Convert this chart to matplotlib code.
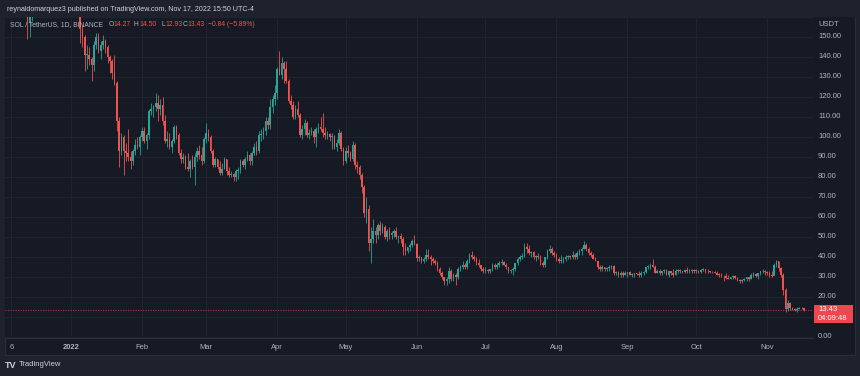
import numpy as np
import pandas as pd
import matplotlib
matplotlib.use("Agg")
import matplotlib.pyplot as plt
from matplotlib.patches import Rectangle

# SOL / TetherUS daily candles: (high, low, close) per day,
# the open of each day is the previous close
first_open = 231.0
dec21 = [(236, 222, 228), (234, 205, 212), (213, 165, 197), (204, 185, 194), (196, 176, 192),
         (199, 186, 188), (193, 180, 190), (191, 172, 174), (182, 168, 170), (181, 166, 179),
         (182, 172, 177), (178, 149, 157), (165, 150, 162), (177, 158, 175), (181, 170, 172),
         (186, 165, 182), (186, 177, 181), (186, 178, 180), (182, 168, 177), (188, 176, 186),
         (188, 178, 180), (194, 177, 191), (199, 188, 192), (197, 188, 194), (198, 189, 193),
         (204, 191, 197), (198, 177, 180), (183, 168, 170), (177, 166, 172), (182, 168, 170)]
jan22 = [(179, 168, 178), (181, 172, 176), (176, 166, 170), (172, 164, 167), (172, 147, 154),
         (156, 145, 150), (151, 133, 141), (146, 134, 141), (145, 136, 139), (140, 128, 136),
         (148, 133, 146), (152, 144, 150), (152, 142, 143), (148, 139, 146), (151, 144, 148),
         (149, 142, 145), (146, 137, 140), (141, 132, 138), (139, 129, 132), (141, 126, 127),
         (128, 103, 108), (110, 85, 93), (102, 91, 100), (101, 81, 93), (97, 88, 92),
         (104, 88, 90), (93, 84, 88), (94, 86, 93), (99, 91, 96), (100, 94, 95), (101, 91, 100)]
feb22 = [(105, 98, 103), (105, 97, 98), (102, 94, 101), (114, 99, 113), (117, 111, 114),
         (116, 110, 115), (122, 113, 117), (121, 108, 114), (119, 111, 116), (120, 106, 108),
         (111, 97, 98), (103, 95, 99), (102, 94, 95), (99, 92, 98), (106, 97, 105),
         (106, 99, 101), (102, 91, 92), (94, 87, 89), (92, 87, 90), (91, 84, 85),
         (92, 83, 84), (89, 80, 88), (91, 84, 85), (92, 76, 90), (95, 88, 93),
         (96, 89, 91), (95, 86, 88), (100, 87, 99)]
mar22 = [(107, 97, 102), (104, 98, 100), (101, 92, 93), (94, 85, 86), (90, 85, 89),
         (89, 84, 85), (88, 81, 82), (87, 81, 84), (90, 84, 89), (89, 81, 83),
         (85, 80, 81), (83, 80, 81.5), (82, 78, 80), (84, 78, 83), (85, 79, 83.5),
         (89, 82, 88), (89, 85, 86), (90, 84, 89), (93, 88, 91), (92, 86, 88),
         (93, 86, 92), (97, 91, 95), (98, 91, 93), (103, 92, 101), (104, 98, 101.5),
         (105, 99, 103), (110, 101, 108), (110, 104, 106), (119, 104, 115), (121, 112, 119),
         (126, 116, 122)]
apr22 = [(135, 119, 134), (143, 131, 131), (140, 129, 137), (138, 127, 134), (138, 127, 128),
         (129, 117, 118), (121, 114, 116), (118, 109, 110), (116, 109, 114), (118, 110, 111),
         (112, 100, 101), (106, 99, 104), (109, 101, 107), (108, 100, 101), (104, 99, 102),
         (105, 101, 103), (104, 97, 100), (105, 95, 104), (107, 102, 105), (110, 103, 104),
         (112, 100, 102), (105, 99, 101), (103, 99, 101.5), (102, 98, 100), (102, 94, 100.5),
         (101, 94, 95), (99, 93, 97), (104, 96, 102), (103, 93, 94), (95, 86, 88)]
may22 = [(95, 87, 93), (96, 90, 92), (93, 88, 89), (98, 88, 96), (97, 84, 86),
         (88, 82, 85), (86, 79, 81), (82, 72, 75), (76, 60, 62), (70, 57, 64),
         (66, 43, 47), (55, 37, 49), (59, 47, 53), (55, 47, 51), (57, 49, 56),
         (58, 51, 53), (57, 52, 55), (56, 49, 50), (54, 48, 53), (55, 49, 51),
         (53, 49, 52), (54, 50, 53), (55, 49, 50), (51, 47, 50.5), (52, 47, 49),
         (50, 41, 45), (47, 41, 43), (45, 42, 45), (47, 43, 46), (49, 45, 48), (51, 46, 46.5)]
jun22 = [(47, 38, 39.5), (41, 38, 40), (40, 37, 38), (40, 37, 39), (44, 38, 41),
         (44, 39, 40), (41, 36, 39), (40, 37, 38), (39, 36, 37), (38, 33, 34),
         (35, 31, 32), (33, 29, 30), (30, 26, 28), (30, 26, 29), (35, 27, 33),
         (34, 28, 29), (32, 28, 31), (32, 26, 30), (35, 29, 34), (36, 33, 35),
         (38, 34, 36), (37, 34, 35), (39, 34, 38), (42, 37, 41), (43, 39, 40),
         (41, 38, 39), (40, 36, 37), (39, 35, 36), (36, 33, 34), (35, 32, 33)]
jul22 = [(35, 32, 33.4), (34, 32, 33), (34, 32, 34), (37, 33, 36), (37, 34, 35),
         (37, 34, 36), (38, 35, 37), (39, 36, 37.5), (38, 36, 36), (37, 34, 35),
         (35, 32, 33), (34, 32, 33.4), (35, 31, 34), (37, 33, 37), (40, 36, 39),
         (41, 38, 40), (42, 39, 40.5), (47, 40, 45), (47, 42, 44), (46, 41, 42),
         (43, 40, 42.5), (43, 39, 40), (41, 38, 40.4), (42, 39, 40), (41, 36, 37),
         (38, 35, 36), (40, 35, 40), (44, 39, 43), (46, 42, 44), (45, 41, 42), (43, 40, 41)]
aug22 = [(42, 38, 39), (40, 37, 38), (41, 37, 38.5), (40, 37, 39), (41, 38, 40),
         (41, 39, 40.4), (41, 39, 40), (43, 39, 41), (42, 39, 40), (43, 39, 42),
         (44, 41, 43), (45, 41, 44), (48, 44, 46), (47, 43, 44), (45, 41, 42),
         (43, 40, 41), (42, 39, 39), (40, 38, 38), (38, 34, 35), (36, 33, 34),
         (36, 33, 35), (35, 33, 34), (35, 33, 34.4), (36, 33, 35), (36, 34, 35.3),
         (36, 31, 32), (33, 31, 32.3), (33, 30, 31), (33, 30, 32), (33, 30, 31), (33, 31, 32)]
sep22 = [(32.5, 30, 32.3), (33, 31, 31.2), (32, 30, 31.4), (32, 30, 32), (32, 31, 31.3),
         (33, 30, 31), (33, 30, 32), (33, 31, 32.4), (35, 32, 35), (36, 34, 35.3),
         (37, 34, 36), (39, 35, 35), (36, 32, 32), (34, 32, 33), (34, 31, 32),
         (33, 31, 33), (34, 32, 33.3), (34, 31, 31), (33, 30, 33), (33, 31, 32),
         (34, 30, 31), (34, 31, 33), (34, 32, 33.5), (34, 32, 33.2), (33, 32, 32.6),
         (34, 32, 33.4), (35, 32, 33), (34, 32, 33.6), (34, 32, 33.1), (34, 32, 33.4)]
oct22 = [(34, 32, 33.2), (33.5, 32, 32.4), (34, 32, 33.3), (34.5, 33, 34), (34, 32, 33.1),
         (34, 32, 32.8), (33, 32, 32.3), (33, 32, 32.5), (33, 32, 32.2), (33, 31, 31.2),
         (32, 30, 31), (32, 30, 30.6), (31, 28, 30.3), (32, 29, 29.6), (31, 29, 29.1),
         (30, 29, 29.8), (31, 29, 30.4), (31, 29, 29.3), (30, 28, 28.6), (29, 27, 28.2),
         (29, 27, 28.4), (29.5, 28, 29.1), (30, 28, 29.8), (30, 28, 29.2), (32, 29, 31.2),
         (32.5, 30, 31.6), (32, 30, 30.4), (32, 29, 31.8), (33, 31, 32.9), (34, 32, 33.2),
         (33.5, 31, 32.3)]
nov22 = [(33, 31, 31.8), (33, 30, 31.1), (33, 30, 30.7), (37, 31, 36.2), (38.5, 35, 37.9),
         (38, 33, 34.5), (35, 30, 31), (32, 21, 23.5), (24.5, 12.5, 14), (18.5, 13, 17),
         (17.5, 13.5, 14.5), (15, 13.5, 14.1), (14.5, 13.2, 13.6), (15, 12.6, 14.2),
         (15, 13.8, 14.5), (15, 13.8, 14.27), (14.5, 12.93, 13.43)]

time_ticks = ["2021-12-06", "2022-01-01", "2022-02-01", "2022-03-01", "2022-04-01", "2022-05-01",
              "2022-06-01", "2022-07-01", "2022-08-01", "2022-09-01", "2022-10-01", "2022-11-01"]
time_labels = ["6", "2022", "Feb", "Mar", "Apr", "May", "Jun", "Jul", "Aug", "Sep", "Oct", "Nov"]
price_labels = [0, 20, 30, 40, 50, 60, 70, 80, 90, 100, 110, 120, 130, 140, 150]
last_price = 13.43

UP, DOWN = "#26a69a", "#ef5350"
FRAME, PANE, GRID, LINE = "#1e222d", "#161a25", "#21252f", "#2a2e39"
TXT = "#b2b5be"
W, H = 860, 376

candles = dec21 + jan22 + feb22 + mar22 + apr22 + may22 + jun22 + jul22 + aug22 + sep22 + oct22 + nov22
high = np.array([c[0] for c in candles], float)
low = np.array([c[1] for c in candles], float)
close = np.array([c[2] for c in candles], float)
opens = np.concatenate([[first_open], close[:-1]])
t0 = pd.Timestamp("2022-01-01")
dates = pd.date_range("2021-12-02", periods=len(close), freq="D")
days = np.asarray((dates - t0).days, float)
up = close >= opens
col = np.where(up, UP, DOWN)


def fx(px):
    return px / W


def fy(py):
    return 1 - py / H


fig = plt.figure(figsize=(W / 100, H / 100), dpi=100, facecolor=FRAME)

# pane background
bg = fig.add_axes([fx(5), fy(355), fx(850), (355 - 17) / H])
bg.set_facecolor(PANE)
bg.set_xticks([])
bg.set_yticks([])
for s in bg.spines.values():
    s.set_color(LINE)
    s.set_linewidth(0.8)

ax = fig.add_axes([fx(5), fy(338), fx(808), (338 - 17) / H])
ax.set_facecolor(PANE)
ax.set_xlim(-28.8, 324.0)
ax.set_ylim(-0.5, 160)
for s in ax.spines.values():
    s.set_visible(False)
ax.spines["bottom"].set_visible(True)
ax.spines["right"].set_visible(True)
ax.spines["bottom"].set_color(LINE)
ax.spines["right"].set_color(LINE)

tick_days = [(pd.Timestamp(d) - t0).days for d in time_ticks]
ax.set_xticks(tick_days)
ax.set_xticklabels(time_labels)
ax.set_yticks(np.arange(0, 161, 10))
ax.set_yticklabels([])
ax.tick_params(axis="x", length=0, pad=4.5, labelsize=5.4, colors=TXT)
ax.tick_params(axis="y", length=0)
for lab in ax.get_xticklabels():
    lab.set_fontfamily("Liberation Sans")
ax.get_xticklabels()[1].set_fontweight("bold")
ax.grid(True, color=GRID, linewidth=0.7)
ax.set_axisbelow(True)

# candles
ax.vlines(days, low, high, colors=col, linewidth=0.7, alpha=0.85, zorder=2)
body_h = np.maximum(np.abs(close - opens), 0.35)
ax.bar(days, body_h, bottom=np.minimum(opens, close), width=0.7, color=col,
       linewidth=0, zorder=3)

ax.axhline(last_price, color=DOWN, linewidth=0.6, linestyle=(0, (1.5, 1.5)), alpha=0.7, zorder=1)

# price scale
pax = fig.add_axes([fx(813), fy(338), fx(42), (338 - 17) / H])
pax.set_facecolor(PANE)
pax.set_xlim(0, 1)
pax.set_ylim(-0.5, 160)
pax.set_xticks([])
pax.set_yticks([])
for s in pax.spines.values():
    s.set_visible(False)
for p in price_labels:
    pax.text(0.12, p, f"{p:.2f}", color=TXT, fontsize=5.5, va="center", ha="left",
             family="Liberation Sans", clip_on=True)
pax.text(0.12, 156.3, "USDT", color=TXT, fontsize=5.5, va="center", ha="left",
         family="Liberation Sans")
pax.add_patch(Rectangle((0.02, 7.0), 0.93, 9.0, facecolor="#f0464f", edgecolor="none"))
pax.text(0.12, 13.9, f"{last_price:.2f}", color="white", fontsize=5.5, va="center",
         family="Liberation Sans")
pax.text(0.12, 9.0, "04:09:48", color="white", fontsize=5.5, va="center",
         family="Liberation Sans")

# header and legend
fig.text(fx(7), fy(9.5), "reynaldomarquez3 published on TradingView.com, Nov 17, 2022 15:50 UTC-4",
         color="#d1d4dc", fontsize=5.1, va="center", family="Liberation Sans")
legend = [(10.5, "SOL / TetherUS, 1D, BINANCE", TXT), (108.5, "O", TXT), (113, "14.27", DOWN),
          (134, "H", TXT), (139, "14.50", DOWN), (161.5, "L", TXT), (165.5, "12.93", DOWN),
          (183, "C", TXT), (187.5, "13.43", DOWN), (208, "\u22120.84 (\u22125.89%)", DOWN)]
for x, s, c in legend:
    fig.text(fx(x), fy(25), s, color=c, fontsize=4.9, va="center", family="Liberation Sans")

fig.text(fx(5), fy(365), "TV", color="#d1d4dc", fontsize=6.5, fontweight="heavy", va="center",
         family="Liberation Sans")
fig.text(fx(19), fy(365), "TradingView", color="#d1d4dc", fontsize=5.5, va="center",
         family="Liberation Sans")

fig.savefig("out.png", dpi=100, facecolor=FRAME)
